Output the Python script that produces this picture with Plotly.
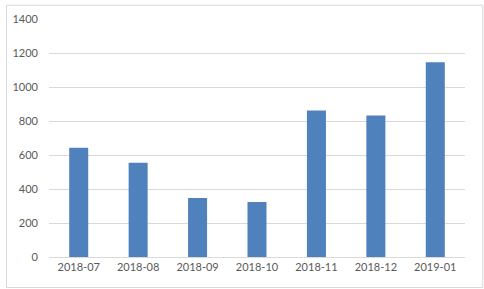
import plotly.graph_objects as go

categories = ["2018-07", "2018-08", "2018-09", "2018-10", "2018-11", "2018-12", "2019-01"]
values = [642, 555, 347, 324, 862, 833, 1145]
y_ticks = [0, 200, 400, 600, 800, 1000, 1200, 1400]

W, H = 484, 289
ml, mr, mt, mb = 44, 19, 15, 32
pw, ph = W - ml - mr, H - mt - mb

fig = go.Figure(go.Bar(x=categories, y=values, marker=dict(color="#4f81bd", line=dict(width=0))))

fig.update_layout(
    width=W, height=H,
    margin=dict(l=ml, r=mr, t=mt, b=mb),
    paper_bgcolor="white", plot_bgcolor="white",
    font=dict(family="Lato, Open Sans, sans-serif", size=11, color="#595959"),
    showlegend=False,
    bargap=0.68,
    xaxis=dict(type="category", showgrid=False, showline=True, linecolor="#d9d9d9", linewidth=1,
               ticks="", tickfont=dict(size=11), fixedrange=True),
    yaxis=dict(range=[0, 1400], tickvals=y_ticks, showgrid=True, gridcolor="#d9d9d9", gridwidth=1,
               zeroline=False, showline=False, ticks="", tickfont=dict(size=11)),
    shapes=[dict(type="rect", xref="paper", yref="paper",
                 x0=(1 - ml) / pw, x1=(W - 1 - ml) / pw,
                 y0=-(mb - 1) / ph, y1=(ph + mt - 1) / ph,
                 line=dict(color="#d9d9d9", width=1))],
)
fig.update_yaxes(ticklabelstandoff=10)
fig.write_html("out.html")
